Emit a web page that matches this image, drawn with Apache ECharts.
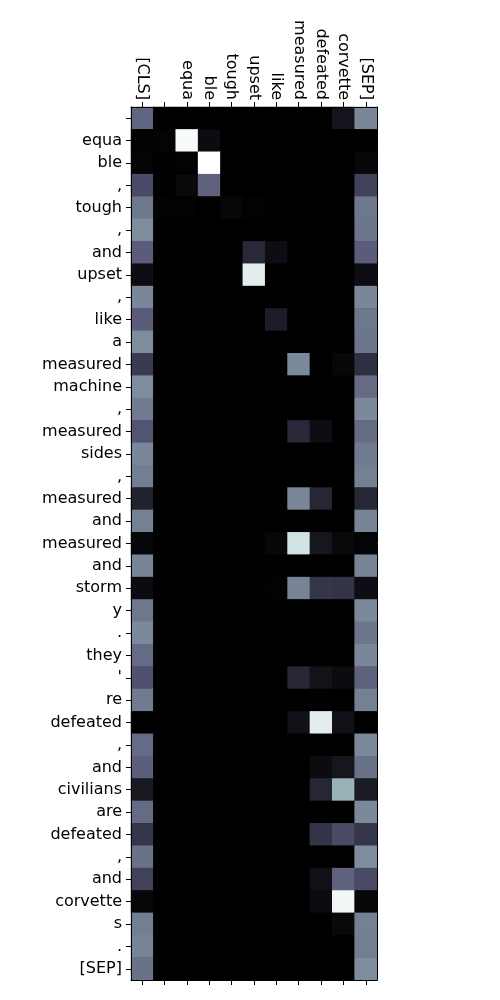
<!DOCTYPE html>
<html>
<head>
<meta charset="utf-8">
<script src="https://cdn.jsdelivr.net/npm/echarts@6/dist/echarts.min.js"></script>
<style>
html,body{margin:0;padding:0;background:#fff;}
#c{width:500px;height:1000px;}
</style>
</head>
<body>
<div id="c"></div>
<script>
// Column tokens (keys)
var colLabels = ['[CLS]', '', 'equa', 'ble', 'tough', 'upset', 'like', 'measured', 'defeated', 'corvette', '[SEP]'];
// Row tokens (queries)
var rowLabels = ['', 'equa', 'ble', ',', 'tough', ',', 'and', 'upset', ',', 'like', 'a', 'measured', 'machine', ',',
  'measured', 'sides', ',', 'measured', 'and', 'measured', 'and', 'storm', 'y', '.', 'they', "'", 're', 'defeated',
  ',', 'and', 'civilians', 'are', 'defeated', ',', 'and', 'corvette', 's', '.', '[SEP]'];
// Attention weights, one row per row token, columns in colLabels order
var attention = [
  [0.43,0,0,0,0,0,0,0,0,0.09,0.54],
  [0.01,0.02,0.98,0.05,0,0,0,0,0,0,0.00],
  [0.02,0,0.01,1.00,0,0,0,0,0,0,0.03],
  [0.33,0,0.04,0.42,0,0,0,0,0,0,0.29],
  [0.49,0.01,0.01,0,0.03,0.01,0,0,0,0,0.49],
  [0.56,0,0,0,0,0,0,0,0,0,0.48],
  [0.40,0,0,0,0,0.18,0.06,0,0,0,0.40],
  [0.06,0,0,0,0,0.92,0,0,0,0,0.06],
  [0.54,0,0,0,0,0,0,0,0,0,0.54],
  [0.40,0,0,0,0,0,0.13,0,0,0,0.49],
  [0.56,0,0,0,0,0,0,0,0,0,0.48],
  [0.26,0,0,0,0,0,0,0.55,0,0.03,0.21],
  [0.56,0,0,0,0,0,0,0,0,0,0.45],
  [0.50,0,0,0,0,0,0,0,0,0,0.55],
  [0.37,0,0,0,0,0,0,0.18,0.06,0,0.45],
  [0.54,0,0,0,0,0,0,0,0,0,0.50],
  [0.51,0,0,0,0,0,0,0,0,0,0.52],
  [0.15,0,0,0,0,0,0,0.54,0.17,0,0.17],
  [0.52,0,0,0,0,0,0,0,0,0,0.53],
  [0.03,0,0,0,0,0,0.03,0.87,0.10,0.04,0.02],
  [0.53,0,0,0,0,0,0,0,0,0,0.53],
  [0.05,0,0,0,0,0,0.01,0.53,0.24,0.23,0.06],
  [0.49,0,0,0,0,0,0,0,0,0,0.55],
  [0.55,0,0,0,0,0,0,0,0,0,0.48],
  [0.45,0,0,0,0,0,0,0,0,0,0.54],
  [0.36,0,0,0,0,0,0,0.17,0.08,0.05,0.42],
  [0.50,0,0,0,0,0,0,0,0,0,0.52],
  [0.00,0,0,0,0,0,0,0.07,0.92,0.07,0.00],
  [0.45,0,0,0,0,0,0,0,0,0,0.55],
  [0.41,0,0,0,0,0,0,0,0.05,0.10,0.47],
  [0.11,0,0,0,0,0,0,0,0.17,0.68,0.12],
  [0.45,0,0,0,0,0,0,0,0,0,0.55],
  [0.24,0,0,0,0,0,0,0,0.23,0.33,0.24],
  [0.47,0,0,0,0,0,0,0,0,0,0.56],
  [0.29,0,0,0,0,0,0,0,0.07,0.42,0.33],
  [0.03,0,0,0,0,0,0,0,0.05,0.96,0.03],
  [0.51,0,0,0,0,0,0,0,0,0.04,0.52],
  [0.53,0,0,0,0,0,0,0,0,0,0.51],
  [0.47,0,0,0,0,0,0,0,0,0,0.56]
];
// matplotlib "bone" colormap sampled at 0, 1/8, ..., 1
var boneColors = ['#000000','#1c1c27','#38384e','#545473','#707b8f','#8ba1ab','#a8c7c7','#d3e3e3','#ffffff'];

var data = [];
for (var r = 0; r < attention.length; r++) {
  for (var c = 0; c < attention[r].length; c++) {
    data.push([c, r, attention[r][c]]);
  }
}

var font = 'DejaVu Sans';
var chart = echarts.init(document.getElementById('c'), null, {renderer: 'canvas'});
chart.setOption({
  animation: false,
  backgroundColor: '#ffffff',
  grid: {left: 131, top: 107, width: 246, height: 873, containLabel: false,
         show: true, backgroundColor: '#000000', borderWidth: 0},
  xAxis: [{
    type: 'category', data: colLabels, position: 'top', z: 10,
    axisLine: {show: true, lineStyle: {color: '#000', width: 1}},
    axisTick: {show: true, interval: 0, alignWithLabel: true, length: 5, lineStyle: {color: '#000'}},
    axisLabel: {show: true, rotate: 90, interval: 0, margin: 7, fontFamily: font, fontSize: 16, color: '#000'},
    splitLine: {show: false}
  }, {
    type: 'category', data: colLabels, position: 'bottom', z: 10,
    axisLine: {show: true, lineStyle: {color: '#000', width: 1}},
    axisTick: {show: true, interval: 0, alignWithLabel: true, length: 5, lineStyle: {color: '#000'}},
    axisLabel: {show: false, interval: 0},
    splitLine: {show: false}
  }],
  yAxis: [{
    type: 'category', data: rowLabels, inverse: true, position: 'left', z: 10,
    axisLine: {show: true, lineStyle: {color: '#000', width: 1}},
    axisTick: {show: true, interval: 0, alignWithLabel: true, length: 5, lineStyle: {color: '#000'}},
    axisLabel: {show: true, interval: 0, margin: 9, fontFamily: font, fontSize: 16, color: '#000'},
    splitLine: {show: false}
  }, {
    type: 'category', data: rowLabels, inverse: true, position: 'right', z: 10,
    axisLine: {show: true, lineStyle: {color: '#000', width: 1}},
    axisTick: {show: false},
    axisLabel: {show: false},
    splitLine: {show: false}
  }],
  visualMap: {
    show: false, type: 'continuous', min: 0, max: 1, dimension: 2,
    inRange: {color: boneColors}
  },
  series: [{
    type: 'heatmap', xAxisIndex: 0, yAxisIndex: 0, data: data,
    itemStyle: {borderWidth: 0},
    emphasis: {disabled: true},
    label: {show: false}
  }]
});
</script>
</body>
</html>
